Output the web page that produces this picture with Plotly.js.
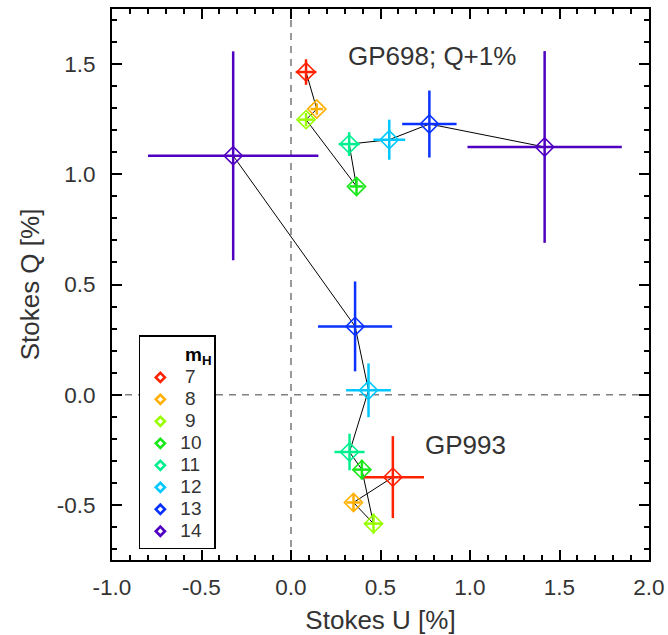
<!DOCTYPE html>
<html>
<head>
<meta charset="utf-8">
<script src="https://cdn.plot.ly/plotly-3.0.1.min.js"></script>
<style>html,body{margin:0;padding:0;background:#fff;}#chart{width:668px;height:635px;}</style>
</head>
<body>
<div id="chart"></div>
<script>
// m_H bins and their colours
const mH = [7, 8, 9, 10, 11, 12, 13, 14];
const mHColors = ['#ff2200', '#ffb000', '#99ff00', '#18e818', '#00f090', '#00c8ff', '#0a32ff', '#5000c0'];

// GP698 (Q shifted by +1%)
const gp698U  = [0.084, 0.144, 0.084, 0.366, 0.325, 0.549, 0.773, 1.417];
const gp698Q  = [1.464, 1.296, 1.248, 0.945, 1.137, 1.157, 1.228, 1.124];
const gp698dU = [0.058, 0.035, 0.042, 0.039, 0.059, 0.089, 0.152, 0.431];
const gp698dQ = [0.058, 0.026, 0.030, 0.039, 0.054, 0.091, 0.152, 0.435];

// GP993
const gp993U  = [0.569, 0.349, 0.461, 0.396, 0.327, 0.433, 0.358, -0.323];
const gp993Q  = [-0.374, -0.489, -0.585, -0.340, -0.260, 0.020, 0.310, 1.084];
const gp993dU = [0.174, 0.040, 0.050, 0.050, 0.084, 0.125, 0.207, 0.476];
const gp993dQ = [0.186, 0.038, 0.045, 0.045, 0.083, 0.122, 0.204, 0.474];

// axis ticks
const xTickVals = [-1.0, -0.5, 0.0, 0.5, 1.0, 1.5, 2.0];
const xTickText = ['-1.0', '-0.5', '0.0', '0.5', '1.0', '1.5', '2.0'];
const yTickVals = [-0.5, 0.0, 0.5, 1.0, 1.5];
const yTickText = ['-0.5', '0.0', '0.5', '1.0', '1.5'];

const FONT = '"Liberation Sans", Arial, Helvetica, sans-serif';
const TXT = '#333333';

const traces = [];
// connecting lines
traces.push({x: gp698U, y: gp698Q, mode: 'lines', line: {color: '#000', width: 1}, showlegend: false, hoverinfo: 'skip'});
traces.push({x: gp993U, y: gp993Q, mode: 'lines', line: {color: '#000', width: 1}, showlegend: false, hoverinfo: 'skip'});

// points with error bars, one trace per m_H colour
mH.forEach((m, i) => {
  traces.push({
    x: [gp698U[i], gp993U[i]],
    y: [gp698Q[i], gp993Q[i]],
    mode: 'markers',
    showlegend: false,
    marker: {symbol: 'diamond-open', size: 14, color: mHColors[i], line: {width: 1.6, color: mHColors[i]}},
    error_x: {type: 'data', array: [gp698dU[i], gp993dU[i]], color: mHColors[i], thickness: 2.5, width: 0},
    error_y: {type: 'data', array: [gp698dQ[i], gp993dQ[i]], color: mHColors[i], thickness: 2.5, width: 0}
  });
});

// legend entries
mH.forEach((m, i) => {
  const lbl = (m < 10 ? '\u2005' : '') + String(m);
  traces.push({
    x: [null], y: [null],
    mode: 'markers',
    name: '<span style="font-size:19px">' + lbl + '</span>',
    marker: {symbol: 'diamond-open', size: 7, color: mHColors[i], line: {width: 2.6, color: mHColors[i]}}
  });
});

const layout = {
  width: 668, height: 635,
  margin: {l: 112, r: 19, t: 9, b: 75},
  paper_bgcolor: '#fff', plot_bgcolor: '#fff',
  font: {family: FONT, color: TXT, size: 22},
  showlegend: true,
  legend: {
    x: 0.05, y: 0.408, xanchor: 'left', yanchor: 'top',
    bgcolor: '#fff', bordercolor: '#000', borderwidth: 1.5,
    font: {family: FONT, size: 14.6, color: TXT},
    title: {text: '\u2003\u2003\u2005<b>m<sub>H</sub></b>', side: 'top', font: {family: FONT, size: 19, color: '#000'}},
    tracegroupgap: 0
  },
  xaxis: {
    range: [-1.0, 2.0],
    tickmode: 'array', tickvals: xTickVals, ticktext: xTickText,
    ticks: 'inside', ticklen: 10, tickwidth: 2, tickcolor: '#000',
    minor: {ticks: 'inside', dtick: 0.1, tick0: 0, ticklen: 5, tickwidth: 2, tickcolor: '#000', showgrid: false},
    showline: true, linecolor: '#000', linewidth: 2, mirror: 'allticks',
    showgrid: false, zeroline: false,
    tickfont: {family: FONT, size: 22.5, color: TXT},
    ticklabelstandoff: 6,
    title: {text: 'Stokes U [%]', font: {family: FONT, size: 26, color: TXT}, standoff: 12}
  },
  yaxis: {
    range: [-0.75, 1.75],
    tickmode: 'array', tickvals: yTickVals, ticktext: yTickText,
    ticks: 'inside', ticklen: 10, tickwidth: 2, tickcolor: '#000',
    minor: {ticks: 'inside', dtick: 0.1, tick0: 0, ticklen: 5, tickwidth: 2, tickcolor: '#000', showgrid: false},
    showline: true, linecolor: '#000', linewidth: 2, mirror: 'allticks',
    showgrid: false, zeroline: false,
    tickfont: {family: FONT, size: 22.5, color: TXT},
    ticklabelstandoff: 10,
    title: {text: 'Stokes Q [%]', font: {family: FONT, size: 26, color: TXT}, standoff: 10}
  },
  shapes: [
    {type: 'line', xref: 'x', yref: 'paper', x0: 0, x1: 0, y0: 0, y1: 1, layer: 'below',
     line: {color: '#808080', width: 1.6, dash: '7px,6px'}},
    {type: 'line', xref: 'paper', yref: 'y', x0: 0, x1: 1, y0: 0, y1: 0, layer: 'below',
     line: {color: '#808080', width: 1.6, dash: '7px,6px'}}
  ],
  annotations: [
    {x: 0.79, y: 1.535, xref: 'x', yref: 'y', text: 'GP698; Q+1%', showarrow: false,
     font: {family: FONT, size: 26, color: TXT}, xanchor: 'center', yanchor: 'middle'},
    {x: 0.975, y: -0.23, xref: 'x', yref: 'y', text: 'GP993', showarrow: false,
     font: {family: FONT, size: 26, color: TXT}, xanchor: 'center', yanchor: 'middle'}
  ]
};

Plotly.newPlot('chart', traces, layout, {displayModeBar: false, staticPlot: true});
</script>
</body>
</html>
